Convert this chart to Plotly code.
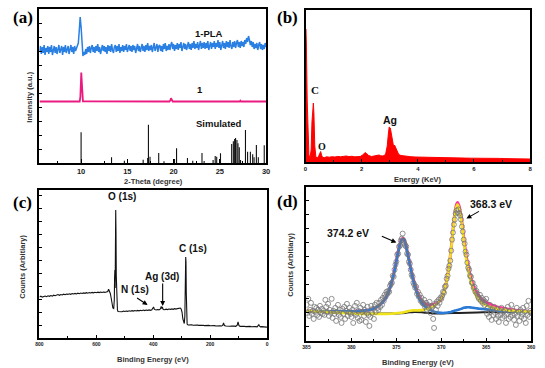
import numpy as np
import plotly.graph_objects as go

W, H = 545, 368

# ---------------- (a) XRD ----------------
sim_theta = [10.0, 13.29, 14.68, 16.71, 17.2, 17.28, 17.45, 18.39, 18.96, 20.1, 20.32, 21.5, 22.07,
             23.07, 23.3, 24.27, 24.5, 24.66, 25.07, 26.28, 26.46, 26.6, 26.7, 26.85, 26.96, 27.1,
             27.24, 27.77, 28.0, 28.3, 28.55, 28.7, 28.95, 29.16, 29.8]
sim_int = [30.7, 5.7, 2.3, 3.3, 5.0, 38.3, 6.3, 10.0, 1.7, 4.0, 14.7, 5.0, 2.3,
           10.0, 2.0, 3.0, 7.0, 6.3, 9.7, 19.0, 21.7, 24.0, 25.0, 23.0, 19.7, 15.7,
           3.0, 33.0, 11.3, 11.3, 8.7, 5.7, 18.0, 5.7, 17.7]

p1_theta = [5.5, 9.85, 9.92, 9.97, 10.02, 10.07, 10.12, 10.2, 19.55, 19.65, 19.72, 19.8, 19.9,
            27.15, 27.22, 27.3, 30.0]
p1_int = [61.5, 61.5, 66, 84, 90.5, 82, 66, 61.6, 61.5, 62.6, 64.8, 62.6, 61.5,
          61.5, 62.3, 61.5, 61.5]

pla_theta = np.round(np.linspace(5.5, 30.0, 246), 2)
pla_int = [
    112, 117, 109, 116, 110, 118, 108, 115, 111, 117,
    109, 116, 111, 118, 108, 114, 117, 110, 116, 109,
    115, 118, 110, 114, 117, 108, 116, 111, 118, 110,
    113, 117, 109, 115, 118, 111, 116, 109, 117, 112,
    115, 117, 120, 132, 146, 136, 117, 107, 111, 108,
    114, 109, 116, 111, 117, 110, 115, 118, 111, 116,
    110, 117, 112, 119, 111, 116, 109, 115, 118, 112,
    117, 111, 116, 109, 118, 112, 117, 111, 119, 113,
    110, 116, 118, 111, 117, 112, 119, 110, 116, 112,
    118, 111, 117, 113, 119, 111, 116, 118, 112, 117,
    111, 118, 113, 117, 110, 116, 119, 112, 117, 111,
    115, 119, 112, 117, 111, 118, 113, 120, 112, 117,
    113, 118, 111, 117, 120, 112, 116, 119, 111, 117,
    118, 112, 117, 111, 119, 114, 120, 112, 117, 113,
    119, 113, 118, 121, 114, 119, 112, 118, 114, 120,
    113, 119, 115, 121, 112, 118, 120, 114, 119, 113,
    118, 121, 114, 119, 113, 120, 115, 122, 114, 119,
    115, 121, 113, 119, 122, 114, 120, 115, 121, 114,
    120, 115, 122, 113, 119, 121, 114, 120, 116, 122,
    114, 120, 116, 123, 115, 121, 113, 119, 122, 115,
    120, 114, 122, 116, 121, 115, 123, 117, 114, 121,
    116, 122, 115, 120, 123, 116, 121, 115, 122, 117,
    121, 116, 123, 119, 125, 121, 127, 123, 118, 122,
    116, 121, 114, 119, 115, 120, 113, 118, 121, 114,
    119, 113, 118, 114, 120, 116]

# ---------------- (b) EDS ----------------
eds_e = [0.0, 0.01, 0.03, 0.06, 0.09, 0.12, 0.16, 0.2, 0.23, 0.26, 0.28, 0.3, 0.33, 0.37, 0.42,
         0.47, 0.51, 0.54, 0.57, 0.61, 0.68, 0.75, 0.85, 0.95, 1.05, 1.15, 1.25, 1.35, 1.45, 1.55,
         1.65, 1.75, 1.85, 1.95, 2.03, 2.08, 2.13, 2.18, 2.25, 2.35, 2.45, 2.55, 2.62, 2.68, 2.76,
         2.85, 2.91, 2.95, 2.98, 3.02, 3.06, 3.1, 3.14, 3.17, 3.21, 3.26, 3.32, 3.4, 3.5, 3.6,
         3.75, 3.9, 4.1, 4.3, 4.5, 4.7, 4.9, 5.1, 5.3, 5.5, 5.7, 5.9, 6.1, 6.3, 6.5, 6.7, 6.9,
         7.1, 7.3, 7.5, 7.7, 7.9, 8.0]
eds_cts = [0, 133, 118, 62, 22, 7, 4, 12, 40, 57, 59, 48, 16, 5, 4,
           6, 9.5, 10.5, 7, 4.5, 4.5, 5.2, 4.8, 5.3, 5.0, 5.6, 5.2, 5.8, 6.0, 5.4,
           5.7, 5.2, 5.6, 5.5, 7.0, 8.5, 9.5, 8.3, 6.5, 5.5, 5.8, 6.3, 7.0, 6.2, 6.0,
           7.5, 16, 28, 35, 34, 27, 19, 15, 17, 14, 10, 7.5, 6.5, 6.0, 5.6,
           5.3, 5.0, 4.8, 4.6, 4.4, 4.5, 4.2, 4.3, 4.0, 4.1, 3.9, 3.8, 3.9, 3.7, 3.6, 3.5, 3.6,
           3.4, 3.3, 3.4, 3.2, 3.1, 3.0]

# ---------------- (c) XPS survey ----------------
xps_be = [800, 795, 790, 785, 780, 775, 770, 765, 760, 755,
          750, 745, 740, 735, 730, 725, 720, 715, 710, 705,
          700, 695, 690, 685, 680, 675, 670, 665, 660, 655,
          650, 645, 640, 635, 630, 625, 620, 615, 610, 605,
          600, 595, 590, 585, 580, 575, 570, 565, 560,
          557, 554, 551, 548, 545, 542, 539, 537, 536, 535, 534, 533, 532, 531, 530, 528, 526, 524,
          520, 515, 510, 505, 500, 495, 490, 485, 480, 475, 470, 465, 460, 455, 450, 445, 440, 435,
          430, 425, 420, 415, 410, 405, 402, 399, 396, 390, 385, 380, 375, 372, 370, 368, 365, 360,
          355, 350, 345, 340, 335, 330, 325, 320, 315, 310, 305,
          302, 299, 296, 293, 291, 289, 288, 287, 286, 285, 284, 283, 281, 278,
          275, 270, 265, 260, 255, 250, 245, 240, 235, 230, 225, 220, 215, 210, 205, 200, 195, 190,
          185, 180, 175, 170, 165, 160, 156, 153, 150, 145, 140, 135, 130, 125, 120, 115, 110, 105,
          102, 99, 95, 90, 85, 80, 75, 70, 65, 60, 55, 50, 45, 40, 35, 31, 29, 27, 23, 18, 13, 8, 3, 0]
xps_cts = [41.0, 41.8, 40.9, 41.6, 42.0, 41.3, 42.2, 41.7, 42.5, 41.9,
           42.8, 42.3, 42.9, 43.4, 42.7, 43.5, 43.0, 43.8, 43.3, 44.0,
           43.6, 44.2, 43.7, 44.4, 44.0, 44.6, 44.1, 44.8, 44.3, 45.0,
           44.5, 45.1, 44.7, 45.3, 44.8, 45.4, 45.0, 45.6, 45.2, 45.7,
           45.3, 45.8, 45.4, 45.9, 45.5, 46.0, 45.6, 46.2, 46.5,
           48.8, 46.5, 44.5, 40, 33, 30, 29.5, 38, 60, 68, 50, 95, 128, 105, 62, 38, 28, 26.5,
           26.3, 26.8, 26.2, 26.9, 26.5, 27.0, 26.6, 27.2, 26.8, 27.3, 26.9, 27.5, 27.0, 27.6, 27.2, 27.7, 27.3, 27.9,
           27.4, 28.0, 27.6, 28.1, 27.7, 28.2, 29.5, 31.0, 28.6, 28.0, 28.5, 28.1, 29.0, 31.5, 29.5, 31.0, 28.4, 28.2,
           28.8, 28.4, 29.0, 28.6, 29.1, 28.7, 29.3, 28.9, 29.4, 29.6, 30.0,
           29, 26, 19, 15, 14.5, 22, 45, 70, 81, 76, 45, 22, 14, 13,
           13.2, 12.9, 13.3, 12.8, 13.1, 12.7, 13.0, 12.6, 12.9, 12.5, 12.8, 12.4, 12.7, 12.3, 12.6, 12.2, 12.5, 12.1,
           12.4, 12.0, 12.3, 11.9, 12.2, 12.0, 12.6, 15.0, 12.5, 12.0, 11.8, 12.1, 11.7, 12.0, 11.6, 11.9, 11.7, 12.8,
           16.0, 12.5, 11.6, 11.9, 11.5, 11.8, 11.4, 11.7, 11.3, 11.6, 11.2, 11.5, 11.1, 11.4, 11.2, 12.4, 13.3, 12.2, 11.2, 11.4, 11.0, 11.2, 10.9, 11.0]

# ---------------- (d) Ag 3d ----------------
fit_be = [385, 384, 383, 382, 381, 380, 379, 378,
          377.5, 377, 376.5, 376,
          375.6, 375.2, 374.9, 374.6, 374.4, 374.2, 374.0, 373.8, 373.5, 373.2,
          372.8, 372.4, 372, 371.5, 371, 370.5, 370,
          369.6, 369.2, 368.9, 368.6, 368.4, 368.2, 368.0, 367.8, 367.5, 367.2,
          366.8, 366.4, 366, 365.5, 365,
          364, 363, 362, 361, 360]
fit_blue = [30, 29.5, 29.5, 29.5, 29.5, 29.5, 30, 31,
            32.5, 35, 39, 46,
            56, 70, 84, 96, 101, 101.5, 97, 89, 76, 63,
            50, 41, 36, 32, 30, 28.5, 28,
            28, 28.5, 29, 30, 30.5, 31, 31.5, 32, 33, 33.5,
            33.5, 33, 32.5, 32, 31.5,
            30.5, 30, 29.5, 29, 29]
fit_yellow = [30, 29.5, 29, 28.5, 28, 27.5, 27, 27,
              27, 27, 27, 27,
              27.2, 27.5, 27.8, 28, 28.3, 28.5, 29, 29.5, 30, 30.5,
              30.5, 30.5, 31, 32, 34, 37, 42,
              52, 70, 92, 118, 131, 136, 132, 122, 100, 80,
              62, 50, 43, 38, 35.5,
              32.5, 31, 30, 29.5, 29]
fit_pink = [30.5, 29.5, 29.5, 29.5, 29.5, 29.5, 30, 31,
            32.5, 35, 39, 46,
            56.2, 70.5, 84.5, 96.5, 101.5, 102, 98, 90, 77, 64.5,
            52, 43, 38.5, 36, 36, 37.5, 42,
            52, 70.5, 92.5, 119, 132.5, 138, 134, 124.5, 103, 83.5,
            66, 54, 47, 41.5, 38.5,
            34.5, 32.5, 31, 30, 29.5]
bg_be = [385, 382, 380, 378, 376, 374, 373, 372, 371, 370, 368, 366, 364, 362, 360]
bg_cts = [29.5, 28.5, 28, 27.5, 27.3, 28, 29, 28.5, 27.5, 27.5, 28, 28.5, 29, 29, 29]

ag_be = np.round(np.linspace(385, 360, 251), 1)
ag_cts = [
    36, 28, 42, 25, 31, 38, 27, 30, 22, 34,
    29, 33, 26, 31, 24, 35, 28, 32, 27, 30,
    26, 41, 34, 29, 37, 25, 31, 28, 42, 23,
    30, 27, 33, 20, 29, 36, 26, 31, 24, 18,
    32, 27, 34, 22, 30, 37, 25, 29, 33, 27,
    24, 31, 18, 28, 35, 26, 38, 23, 30, 20,
    33, 21, 29, 36, 25, 31, 19, 28, 34, 26,
    15, 24, 35, 28, 32, 22, 36, 29, 38, 33,
    31, 38, 34, 41, 36, 43, 40, 46, 44, 49,
    47, 50, 49, 55, 57, 58, 65, 64, 71, 76,
    79, 86, 87, 94, 95, 100, 102, 107, 100, 97,
    95, 94, 87, 86, 79, 77, 71, 66, 64, 58,
    56, 53, 54, 47, 49, 44, 46, 40, 43, 38,
    37, 41, 34, 38, 31, 36, 33, 39, 28, 35,
    34, 22, 13, 37, 31, 39, 35, 41, 38, 43,
    42, 45, 49, 48, 54, 55, 62, 65, 72, 75,
    80, 90, 101, 108, 116, 121, 127, 130, 128, 131,
    127, 125, 121, 114, 109, 101, 97, 89, 86, 78,
    73, 71, 65, 64, 58, 58, 53, 54, 49, 50,
    47, 44, 42, 46, 40, 43, 38, 41, 36, 39,
    42, 27, 33, 24, 36, 29, 21, 31, 26, 34,
    28, 22, 32, 25, 19, 30, 26, 33, 23, 29,
    25, 31, 18, 27, 34, 22, 29, 24, 36, 26,
    30, 21, 27, 16, 33, 25, 29, 20, 31, 24,
    27, 33, 22, 29, 18, 35, 26, 40, 24, 30,
    28]

assert len(pla_int) == len(pla_theta)
assert len(eds_e) == len(eds_cts)
assert len(xps_be) == len(xps_cts), (len(xps_be), len(xps_cts))
assert len(ag_cts) == len(ag_be)
assert len(fit_be) == len(fit_blue) == len(fit_yellow) == len(fit_pink)

# ---------------- figure ----------------
def px(x):
    return x / W

def py(y):
    return 1 - y / H

fig = go.Figure()

# (a)
sx, sy = [], []
for t, v in zip(sim_theta, sim_int):
    sx += [t, t, None]
    sy += [0, v, None]
fig.add_trace(go.Scatter(x=sx, y=sy, mode="lines", line=dict(color="#111111", width=1.1),
                         xaxis="x", yaxis="y", hoverinfo="skip"))
fig.add_trace(go.Scatter(x=p1_theta, y=p1_int, mode="lines", line=dict(color="#ec1a80", width=1.8),
                         xaxis="x", yaxis="y"))
fig.add_trace(go.Scatter(x=pla_theta, y=pla_int, mode="lines", line=dict(color="#2a7fe2", width=1.5),
                         xaxis="x", yaxis="y"))

# (b)
fig.add_trace(go.Scatter(x=eds_e, y=eds_cts, mode="lines", fill="tozeroy", fillcolor="#ff0000",
                         line=dict(color="#ff0000", width=1), xaxis="x2", yaxis="y2"))

# (c)
fig.add_trace(go.Scatter(x=xps_be, y=xps_cts, mode="lines", line=dict(color="#111111", width=1.1),
                         xaxis="x3", yaxis="y3"))

# (d)
fig.add_trace(go.Scatter(x=bg_be, y=bg_cts, mode="lines", line=dict(color="#222222", width=2, shape="spline"),
                         xaxis="x4", yaxis="y4"))
fig.add_trace(go.Scatter(x=fit_be, y=fit_pink, mode="lines", line=dict(color="#ff3399", width=3, shape="spline"),
                         xaxis="x4", yaxis="y4"))
fig.add_trace(go.Scatter(x=fit_be, y=fit_blue, mode="lines", line=dict(color="#2b7bd6", width=2.6, shape="spline"),
                         xaxis="x4", yaxis="y4"))
fig.add_trace(go.Scatter(x=fit_be, y=fit_yellow, mode="lines", line=dict(color="#f0e21c", width=2.6, shape="spline"),
                         xaxis="x4", yaxis="y4"))
fig.add_trace(go.Scatter(x=ag_be, y=ag_cts, mode="markers",
                         marker=dict(symbol="circle-open", size=5, color="#767676", line=dict(width=0.8)),
                         xaxis="x4", yaxis="y4"))

frame = dict(showline=True, mirror=True, linecolor="black", linewidth=1.6, zeroline=False,
             showgrid=False)
tf = lambda s: dict(family="Liberation Sans", size=s, color="#222222", weight="bold")

fig.update_layout(
    width=W, height=H, margin=dict(l=0, r=0, t=0, b=0),
    paper_bgcolor="white", plot_bgcolor="white", showlegend=False,
    xaxis=dict(domain=[px(36), px(266)], anchor="y", range=[5.5, 30],
               tickvals=[10, 15, 20, 25, 30], ticks="inside", ticklen=4, tickcolor="black",
               minor=dict(ticks="inside", ticklen=2, dtick=2.5, tick0=0, tickcolor="black"),
               tickfont=tf(7.5), **frame),
    yaxis=dict(domain=[py(163), py(9)], anchor="x", range=[0, 154], showticklabels=False,
               ticks="inside", ticklen=3, dtick=14, tickcolor="black", **frame),
    xaxis2=dict(domain=[px(306), px(534)], anchor="y2", range=[0, 8],
                tickvals=[0, 2, 4, 6, 8], ticks="inside", ticklen=3, tickcolor="black",
                minor=dict(ticks="inside", ticklen=2, dtick=1, tick0=0, tickcolor="black"),
                tickfont=tf(6), **frame),
    yaxis2=dict(domain=[py(162), py(10)], anchor="x2", range=[0, 152], showticklabels=False,
                ticks="", **frame),
    xaxis3=dict(domain=[px(36), px(267)], anchor="y3", range=[800, 0],
                tickvals=[800, 600, 400, 200, 0], ticks="inside", ticklen=3, tickcolor="black",
                minor=dict(ticks="inside", ticklen=2, dtick=100, tick0=0, tickcolor="black"),
                tickfont=tf(5), **frame),
    yaxis3=dict(domain=[py(338), py(190)], anchor="x3", range=[0, 148], showticklabels=False,
                ticks="inside", ticklen=3, dtick=13, tickcolor="black", **frame),
    xaxis4=dict(domain=[px(307), px(535)], anchor="y4", range=[385, 360],
                tickvals=[385, 380, 375, 370, 365, 360], ticks="inside", ticklen=3, tickcolor="black",
                minor=dict(ticks="inside", ticklen=2, dtick=2.5, tick0=0, tickcolor="black"),
                tickfont=tf(5), **frame),
    yaxis4=dict(domain=[py(341), py(187)], anchor="x4", range=[0, 153.4], showticklabels=False,
                ticks="inside", ticklen=3, dtick=14, tickcolor="black", **frame),
)

ann = []

def label(text, x, y, size, family="Liberation Sans", angle=0, color="#111111"):
    ann.append(dict(text=text, x=px(x), y=py(y), xref="paper", yref="paper", showarrow=False,
                    font=dict(family=family, size=size, color=color, weight="bold"),
                    textangle=angle, xanchor="center", yanchor="middle"))

# panel letters
for t, x, y in [("(a)", 19, 17), ("(b)", 288, 17), ("(c)", 19, 203), ("(d)", 288, 201)]:
    label(t, x, y, 17, family="Liberation Serif", color="black")

# axis titles
label("2-Theta (degree)", 152, 181, 7.5, color="#333333")
label("Intensity (a.u.)", 25, 97, 7.5, angle=-90, color="#333333")
label("Energy (KeV)", 420, 180, 7.5, color="#333333")
label("Binding Energy (eV)", 151, 359, 7.5, color="#333333")
label("Counts (Arbitiary)", 18, 267, 7.5, angle=-90, color="#333333")
label("Binding Energy (eV)", 420, 362, 7.5, color="#333333")
label("Counts (Arbitiary)", 290, 265, 7.5, angle=-90, color="#333333")

# (a) series labels
label("1-PLA", 208, 34, 9.5)
label("1", 199, 90, 9.5)
label("Simulated", 218, 123, 9.5)

# (b) element labels
label("C", 316, 90, 11, family="Liberation Serif")
label("O", 323, 146, 10, family="Liberation Serif")
label("Ag", 392, 120, 10.5)

# (c) labels
label("O (1s)", 120, 196, 10)
label("C (1s)", 192, 249, 10)
label("Ag (3d)", 160, 276, 10)
label("N (1s)", 133, 289, 10)

# (d) labels
label("374.2 eV", 349, 233, 10.5)
label("368.3 eV", 494, 204, 10.5)

arrow = dict(showarrow=True, arrowhead=2, arrowsize=0.9, arrowwidth=1.1, arrowcolor="black", text="")
ann.append(dict(x=420, y=33, xref="x3", yref="y3", ax=-12, ay=-8, **arrow))
ann.append(dict(x=367, y=32, xref="x3", yref="y3", ax=0, ay=-24, **arrow))
ann.append(dict(x=375.0, y=98, xref="x4", yref="y4", ax=-16, ay=-7, **arrow))
ann.append(dict(x=367.2, y=122, xref="x4", yref="y4", ax=14, ay=-8, **arrow))

fig.update_layout(annotations=ann)
fig.write_html("out.html", config={"displayModeBar": False},
               post_script="document.body.style.margin='0px';document.body.style.overflow='hidden';")
